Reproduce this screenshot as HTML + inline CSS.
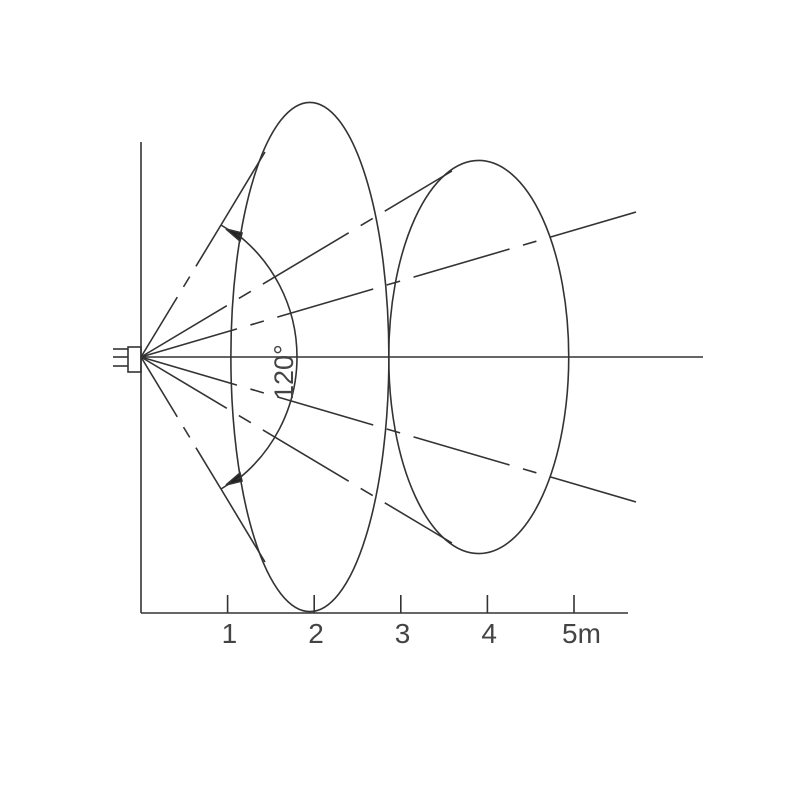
<!DOCTYPE html>
<html><head><meta charset="utf-8"><style>
html,body{margin:0;padding:0;background:#fff;width:800px;height:800px;overflow:hidden}
svg{display:block}
text{font-family:"Liberation Sans",sans-serif;fill:#444;font-weight:normal}
</style></head><body>
<svg id="chart" width="800" height="800" viewBox="0 0 800 800">
<g id="g" stroke="#333" stroke-width="1.6" fill="none"></g>
</svg>
<script>
const tickValues=[1,2,3,4,5];
const tickLabels=["1","2","3","4","5m"];
const angleLabel="120°";
const detectAngle=120;
const ellipseNear=[1.95,2.94];   // center distance m, half-height m
const ellipseFar=[3.9,2.27];
const x0=141,y0=357,base=613,pxm=86.6;
const sx=v=>x0+v*pxm;
const svg=document.getElementById('chart');
const g=document.getElementById('g');
const NS='http://www.w3.org/2000/svg';
function el(t,a,name,parent){const e=document.createElementNS(NS,t);for(const k in a)e.setAttribute(k,a[k]);


(parent||g).appendChild(e);return e;}
el('line',{x1:x0,y1:142,x2:x0,y2:base},'y-axis');
el('line',{x1:x0,y1:base,x2:628,y2:base},'x-axis');
el('line',{x1:x0,y1:y0,x2:703,y2:y0},'center-line');
tickValues.forEach((v,i)=>{
 el('line',{x1:sx(v),y1:595,x2:sx(v),y2:base},'x-tick');
 const t=el('text',{x:sx(v)-(i==4?12:6),y:643,'font-size':28,stroke:'none',fill:'#444'},'x-tick-label',svg);
 t.textContent=tickLabels[i];
});
// sensor
el('rect',{x:128,y:347,width:13,height:25},'sensor-body');
[349,357,366].forEach(y=>el('line',{x1:113,y1:y,x2:128,y2:y},'sensor-pin'));
// ellipses
el('ellipse',{cx:x0+ellipseNear[0]*pxm,cy:y0,rx:79,ry:ellipseNear[1]*pxm},'near-detection-zone');
el('ellipse',{cx:x0+ellipseFar[0]*pxm,cy:y0,rx:90,ry:ellipseFar[1]*pxm},'far-detection-zone');
// rays
const dash='100 14 14 14';
[[1,-1],[-1,1]].forEach(([s])=>{
 const sy=y=>y0+s*(y-y0);
 el('line',{x1:x0,y1:y0,x2:221,y2:sy(225),'stroke-dasharray':'70 12 12 12'},'outer-ray');
 el('line',{x1:221,y1:sy(225),x2:265,y2:sy(152)},'tangent-line');
 el('line',{x1:221,y1:sy(225),x2:240,y2:sy(237)},'arrow-line');
 el('path',{d:`M226 ${sy(229)} L242 ${sy(233)} L240 ${sy(241)} Z`,fill:'#222'},'arc-arrowhead');
 el('line',{x1:x0,y1:y0,x2:452,y2:sy(171),'stroke-dasharray':dash},'mid-ray');
 el('line',{x1:x0,y1:y0,x2:636,y2:sy(212),'stroke-dasharray':dash},'inner-ray');
});
// arc
const r=156,a=(detectAngle/2-8)*Math.PI/180;
el('path',{d:`M${x0+r*Math.cos(a)} ${y0-r*Math.sin(a)} A${r} ${r} 0 0 1 ${x0+r*Math.cos(a)} ${y0+r*Math.sin(a)}`},'angle-arc');
const at=el('text',{x:0,y:0,'font-size':27,stroke:'none',fill:'#444',transform:'translate(293,400) rotate(-90)'},'angle-label',svg);
at.textContent=angleLabel;
</script>
</body></html>
